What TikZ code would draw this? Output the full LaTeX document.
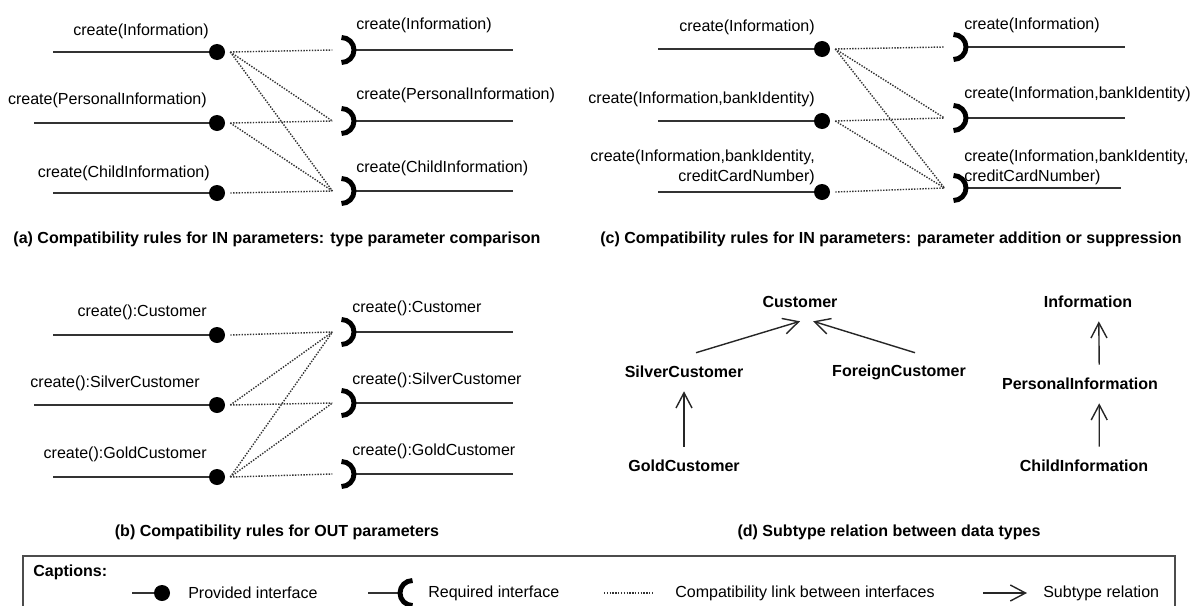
\documentclass[tikz,border=0pt]{standalone}
\usepackage{fontspec}
\setmainfont{Liberation Sans}
\usetikzlibrary{arrows.meta}
\usetikzlibrary{positioning}

\begin{document}
\begin{tikzpicture}[x=0.025cm, y=-0.025cm]
        \tikzset{every node/.style={inner sep=0pt, font=\fontsize{11.4}{14.2}\selectfont},
                provided/.style={circle, fill=black, minimum size=0.4cm},
                socket/.style={minimum width=0.525cm, minimum height=0.6cm},
                wire/.style={draw=black!80, line width=1.4pt},
                sockarc/.style={draw=black, line width=3.5pt},
                link/.style={draw=black!80, line width=1pt, dash pattern=on 1pt off 1pt},
                subtype/.style={draw=black!85, line width=1pt, -{Straight Barb[length=3.8mm, width=4mm]}},
                caption/.style={font=\fontsize{11.4}{14.2}\selectfont\bfseries},
                type/.style={font=\fontsize{11.4}{14.2}\selectfont\bfseries, minimum height=0.95cm}}

        \useasboundingbox (0,0) rectangle (1202,605);

        % (a) IN parameters, type comparison
        \coordinate (la1) at (53,52);
        \coordinate (la2) at (34,123);
        \coordinate (la3) at (53,193);
        \node[provided] (pa1) at (217,52) {};
        \node[provided] (pa2) at (217,123) {};
        \node[provided] (pa3) at (217,193) {};
        \node[socket, anchor=east] (ra1) at (354,50) {};
        \node[socket, anchor=east] (ra2) at (354,121) {};
        \node[socket, anchor=east] (ra3) at (354,191) {};
        \coordinate (ea1) at (513,50);
        \coordinate (ea2) at (513,121);
        \coordinate (ea3) at (513,191);
        \node[anchor=east] (ta1) at (209,31) {create(Information)};
        \node[anchor=east] (ta2) at (207,100) {create(PersonalInformation)};
        \node[anchor=east] (ta3) at (210,173) {create(ChildInformation)};
        \node[anchor=west] (ua1) at (356,25) {create(Information)};
        \node[anchor=west] (ua2) at (356,95) {create(PersonalInformation)};
        \node[anchor=west] (ua3) at (356,168) {create(ChildInformation)};

        \draw[wire] (la1) -- (pa1.west);
        \draw[wire] (la2) -- (pa2.west);
        \draw[wire] (la3) -- (pa3.west);
        \draw[wire] (ra1.east) -- (ea1);
        \draw[wire] (ra2.east) -- (ea2);
        \draw[wire] (ra3.east) -- (ea3);
        \draw[sockarc] (ra1.east) ++(-12.5,-12.5) arc[start angle=90, end angle=-90, radius=3.125mm];
        \draw[sockarc] (ra2.east) ++(-12.5,-12.5) arc[start angle=90, end angle=-90, radius=3.125mm];
        \draw[sockarc] (ra3.east) ++(-12.5,-12.5) arc[start angle=90, end angle=-90, radius=3.125mm];
        \draw[link] ([xshift=1.25mm]pa1.east) -- (ra1.west);
        \draw[link] ([xshift=1.25mm]pa1.east) -- (ra2.west);
        \draw[link] ([xshift=1.25mm]pa1.east) -- (ra3.west);
        \draw[link] ([xshift=1.25mm]pa2.east) -- (ra2.west);
        \draw[link] ([xshift=1.25mm]pa2.east) -- (ra3.west);
        \draw[link] ([xshift=1.25mm]pa3.east) -- (ra3.west);
        \node[caption] (capa) at (277,239) {(a) Compatibility rules for IN parameters: type parameter comparison};

        % (b) OUT parameters
        \coordinate (lb1) at (53,335);
        \coordinate (lb2) at (34,405);
        \coordinate (lb3) at (53,477);
        \node[provided] (pb1) at (217,335) {};
        \node[provided] (pb2) at (217,405) {};
        \node[provided] (pb3) at (217,477) {};
        \node[socket, anchor=east] (rb1) at (354,332) {};
        \node[socket, anchor=east] (rb2) at (354,403) {};
        \node[socket, anchor=east] (rb3) at (354,474) {};
        \coordinate (eb1) at (513,332);
        \coordinate (eb2) at (513,403);
        \coordinate (eb3) at (513,474);
        \node[anchor=east] (tb1) at (207,312) {create():Customer};
        \node[anchor=east] (tb2) at (200,383) {create():SilverCustomer};
        \node[anchor=east] (tb3) at (207,454) {create():GoldCustomer};
        \node[anchor=west] (ub1) at (352,308) {create():Customer};
        \node[anchor=west] (ub2) at (352,380) {create():SilverCustomer};
        \node[anchor=west] (ub3) at (352,451) {create():GoldCustomer};

        \draw[wire] (lb1) -- (pb1.west);
        \draw[wire] (lb2) -- (pb2.west);
        \draw[wire] (lb3) -- (pb3.west);
        \draw[wire] (rb1.east) -- (eb1);
        \draw[wire] (rb2.east) -- (eb2);
        \draw[wire] (rb3.east) -- (eb3);
        \draw[sockarc] (rb1.east) ++(-12.5,-12.5) arc[start angle=90, end angle=-90, radius=3.125mm];
        \draw[sockarc] (rb2.east) ++(-12.5,-12.5) arc[start angle=90, end angle=-90, radius=3.125mm];
        \draw[sockarc] (rb3.east) ++(-12.5,-12.5) arc[start angle=90, end angle=-90, radius=3.125mm];
        \draw[link] ([xshift=1.25mm]pb1.east) -- (rb1.west);
        \draw[link] ([xshift=1.25mm]pb2.east) -- (rb1.west);
        \draw[link] ([xshift=1.25mm]pb2.east) -- (rb2.west);
        \draw[link] ([xshift=1.25mm]pb3.east) -- (rb1.west);
        \draw[link] ([xshift=1.25mm]pb3.east) -- (rb2.west);
        \draw[link] ([xshift=1.25mm]pb3.east) -- (rb3.west);
        \node[caption] (capb) at (277,532) {(b) Compatibility rules for OUT parameters};

        % (c) IN parameters, addition or suppression
        \coordinate (lc1) at (658,49);
        \coordinate (lc2) at (658,121);
        \coordinate (lc3) at (658,192);
        \node[provided] (pc1) at (822,49) {};
        \node[provided] (pc2) at (822,121) {};
        \node[provided] (pc3) at (822,192) {};
        \node[socket, anchor=east] (rc1) at (966,47) {};
        \node[socket, anchor=east] (rc2) at (966,118) {};
        \node[socket, anchor=east] (rc3) at (966,188) {};
        \coordinate (ec1) at (1125,47);
        \coordinate (ec2) at (1125,118);
        \coordinate (ec3) at (1121,188);
        \node[anchor=east] (tc1) at (815,27) {create(Information)};
        \node[anchor=east] (tc2) at (815,99) {create(Information,bankIdentity)};
        \node[anchor=east, align=right] (tc3) at (815,167) {create(Information,bankIdentity,\\creditCardNumber)};
        \node[anchor=west] (uc1) at (964,25) {create(Information)};
        \node[anchor=west] (uc2) at (964,94) {create(Information,bankIdentity)};
        \node[anchor=west, align=left] (uc3) at (964,167) {create(Information,bankIdentity,\\creditCardNumber)};

        \draw[wire] (lc1) -- (pc1.west);
        \draw[wire] (lc2) -- (pc2.west);
        \draw[wire] (lc3) -- (pc3.west);
        \draw[wire] (rc1.east) -- (ec1);
        \draw[wire] (rc2.east) -- (ec2);
        \draw[wire] (rc3.east) -- (ec3);
        \draw[sockarc] (rc1.east) ++(-12.5,-12.5) arc[start angle=90, end angle=-90, radius=3.125mm];
        \draw[sockarc] (rc2.east) ++(-12.5,-12.5) arc[start angle=90, end angle=-90, radius=3.125mm];
        \draw[sockarc] (rc3.east) ++(-12.5,-12.5) arc[start angle=90, end angle=-90, radius=3.125mm];
        \draw[link] ([xshift=1.25mm]pc1.east) -- (rc1.west);
        \draw[link] ([xshift=1.25mm]pc1.east) -- (rc2.west);
        \draw[link] ([xshift=1.25mm]pc1.east) -- (rc3.west);
        \draw[link] ([xshift=1.25mm]pc2.east) -- (rc2.west);
        \draw[link] ([xshift=1.25mm]pc2.east) -- (rc3.west);
        \draw[link] ([xshift=1.25mm]pc3.east) -- (rc3.west);
        \node[caption] (capc) at (891,239) {(c) Compatibility rules for IN parameters: parameter addition or suppression};

        % (d) subtypes
        \node[type] (cust) at (800,302) {Customer};
        \node[type] (silver) at (684,372) {SilverCustomer};
        \node[type] (foreign) at (899,372) {ForeignCustomer};
        \node[type] (gold) at (684,466) {GoldCustomer};
        \node[type] (info) at (1088,302) {Information};
        \node[type] (pers) at (1080,384) {PersonalInformation};
        \node[type] (child) at (1084,466) {ChildInformation};

        \draw[subtype] ([xshift=3mm]silver.north) -- (cust.south);
        \draw[subtype] ([xshift=4mm]foreign.north) -- ([xshift=3.3mm]cust.south);
        \draw[subtype] (gold) -- (silver);
        \draw[subtype] ([xshift=3.8mm]child.north) -- ([xshift=4.8mm]pers.south);
        \draw[subtype] ([xshift=4.8mm]pers.north) -- ([xshift=2.7mm]info.south);
        \node[caption] (capd) at (889,532) {(d) Subtype relation between data types};

        % captions box
        \draw[draw=black!70, line width=1.2pt] (23,556) rectangle (1175,620);
        \node[caption, anchor=west] (legend) at (33,572) {Captions:};
        \coordinate (lp1) at (132,593);
        \node[provided] (lp) at (162,593) {};
        \node[anchor=west] (lpt) at (188,593) {Provided interface};
        \coordinate (lr1) at (368,593);
        \node[socket, anchor=west] (lr) at (400,593) {};
        \node[anchor=west] (lrt) at (428,593) {Required interface};
        \coordinate (ll1) at (604,593);
        \coordinate (ll2) at (652,593);
        \node[anchor=west] (llt) at (675,593) {Compatibility link between interfaces};
        \coordinate (ls1) at (983,593);
        \coordinate (ls2) at (1027,593);
        \node[anchor=west] (lst) at (1043,593) {Subtype relation};

        \draw[wire] (lp1) -- (lp.west);
        \draw[wire] (lr1) -- (lr.west);
        \draw[sockarc] (lr.west) ++(12.5,-12.5) arc[start angle=90, end angle=270, radius=3.125mm];
        \draw[link] (ll1) -- (ll2);
        \draw[subtype] (ls1) -- (ls2);

    \end{tikzpicture}
\end{document}
